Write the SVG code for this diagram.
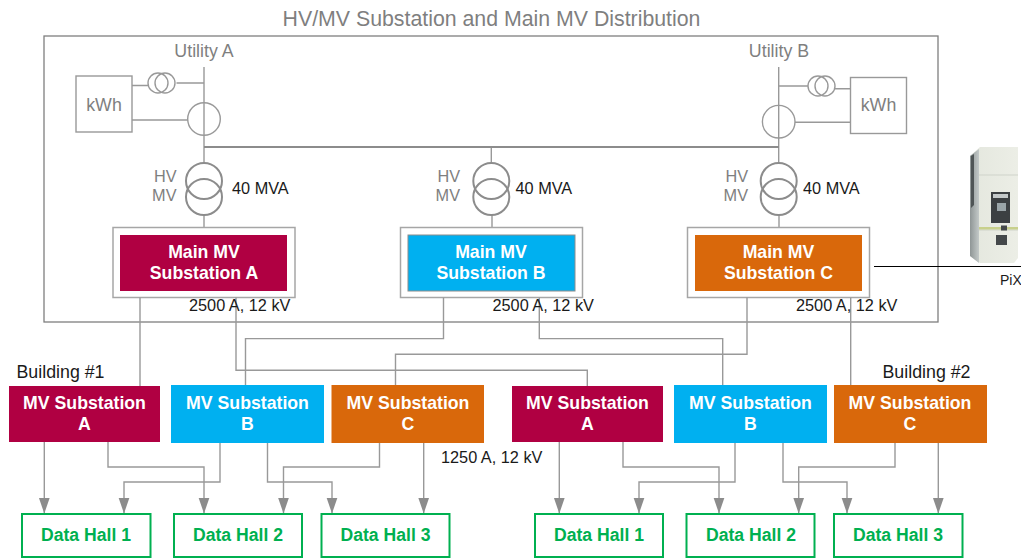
<svg xmlns="http://www.w3.org/2000/svg" width="1021" height="558" viewBox="0 0 1021 558">
<style>
text{font-family:"Liberation Sans",Arial,sans-serif}
.g{fill:#7f7f7f}.k{fill:#1a1a1a}
.t13{font-size:16.3px}
.l{font-size:17.8px}
.b{font-weight:bold;fill:#fff;font-size:17.7px;text-anchor:middle}
.h{font-weight:bold;fill:#00b050;font-size:17.6px;text-anchor:middle}
.c{fill:none;stroke:#999;stroke-width:1.4}
.t{fill:none;stroke:#8c8c8c;stroke-width:2}
.o{fill:#fff;stroke:#a6a6a6;stroke-width:1.5}
.m{fill:none;stroke:#999;stroke-width:1.4}
.hall{fill:#fff;stroke:#00b050;stroke-width:2}
.a{marker-end:url(#ah)}
.rA{fill:#b00042}.rB{fill:#00b0f0}.rC{fill:#d9680b}
</style>
<defs>
<marker id="ah" markerUnits="userSpaceOnUse" markerWidth="16" markerHeight="12" refX="15.500" refY="5.500" orient="auto"><path d="M0 0L16 5.500L0 11Z" fill="#8c8c8c"/></marker>
<linearGradient id="cab" x1="0" x2="1" y1="0" y2="0"><stop offset="0" stop-color="#e4e7de"/><stop offset="1" stop-color="#eceee6"/></linearGradient>
<linearGradient id="side" x1="0" x2="1" y1="0" y2="0"><stop offset="0" stop-color="#8f9696"/><stop offset="1" stop-color="#c3c9c8"/></linearGradient>
</defs>
<rect width="1021" height="558" fill="#fff"/>
<text id="title" x="491.500" y="25.500" class="g" font-size="21.300" text-anchor="middle">HV/MV Substation and Main MV Distribution</text>
<rect id="boundary" x="44" y="36" width="894" height="286" fill="none" stroke="#7f7f7f" stroke-width="1.300"/>

<g id="utility-a">
<text x="204" y="57" class="g l" text-anchor="middle">Utility A</text>
<rect x="76" y="76" width="56" height="56" class="m"/>
<text x="104" y="110.500" class="g l" text-anchor="middle">kWh</text>
<circle cx="204" cy="119" r="16.300" class="m"/>
<circle cx="158" cy="83" r="10" class="m"/><circle cx="165" cy="83" r="10" class="m"/>
<path d="M132 85.500H148M176.500 83H204M132 120H188" class="m"/>
</g>
<g id="utility-b">
<text x="779" y="57" class="g l" text-anchor="middle">Utility B</text>
<rect x="850.500" y="77.500" width="56" height="56" class="m"/>
<text x="878.500" y="111" class="g l" text-anchor="middle">kWh</text>
<circle cx="778.700" cy="121.700" r="16.300" class="m"/>
<circle cx="818" cy="86" r="10" class="m"/><circle cx="825" cy="86" r="10" class="m"/>
<path d="M778.700 86H808M835 88.700H850.500M795 122.300H850.500" class="m"/>
</g>
<g id="connectors-hv">
<path d="M204 67V163M204 215V235M778.700 67V163M779 215V235M491.300 147V163M492 215V235" class="c"/>
<path d="M204 147H779" fill="none" stroke="#8c8c8c" stroke-width="2"/>
</g>
<g id="tx-a"><circle cx="204" cy="181" r="18" class="t"/><circle cx="204" cy="197" r="18" class="t"/>
<text x="176.500" y="182" class="g t13" text-anchor="end">HV</text><text x="176.500" y="201" class="g t13" text-anchor="end">MV</text>
<text x="232" y="194" class="k t13">40 MVA</text></g>
<g id="tx-b"><circle cx="491.300" cy="181" r="18" class="t"/><circle cx="491.300" cy="197" r="18" class="t"/>
<text x="460" y="182" class="g t13" text-anchor="end">HV</text><text x="460" y="201" class="g t13" text-anchor="end">MV</text>
<text x="515.500" y="194" class="k t13">40 MVA</text></g>
<g id="tx-c"><circle cx="778.700" cy="181" r="18" class="t"/><circle cx="778.700" cy="197" r="18" class="t"/>
<text x="748" y="182" class="g t13" text-anchor="end">HV</text><text x="748" y="201" class="g t13" text-anchor="end">MV</text>
<text x="803" y="194" class="k t13">40 MVA</text></g>

<g id="main-a"><rect x="113" y="227.500" width="182" height="70" class="o"/><rect x="120" y="235" width="167" height="56" class="rA"/>
<text x="204" y="258" class="b">Main MV</text><text x="204" y="279" class="b">Substation A</text></g>
<g id="main-b"><rect x="400.500" y="227.500" width="182" height="70" class="o"/><rect x="408" y="235" width="167" height="56" class="rB" stroke="#8c8c8c" stroke-width="1"/>
<text x="491" y="258" class="b">Main MV</text><text x="491" y="279" class="b">Substation B</text></g>
<g id="main-c"><rect x="687.500" y="227.500" width="182" height="70" class="o"/><rect x="695" y="235" width="167" height="56" class="rC"/>
<text x="778.500" y="258" class="b">Main MV</text><text x="778.500" y="279" class="b">Substation C</text></g>

<g id="connectors">
<path d="M140 297.500V386M236 297.500V370.300H587.300V386M443.500 297.500V338.600H245.500V385M539.300 297.500V338.600H722.700V385M747 297.500V354.300H395.500V385M850.700 297.500V385" class="c"/>
<path class="c a" d="M44.300 442V513"/>
<path class="c a" d="M108 442V467H204V513"/>
<path class="c a" d="M220 443V482H124V513"/>
<path class="c a" d="M267.500 443V482H332V513"/>
<path class="c a" d="M379.500 443V467H283.500V513"/>
<path class="c a" d="M423.700 443V513"/>
<path class="c a" d="M559.300 442V513"/>
<path class="c a" d="M623 442V467H719V513"/>
<path class="c a" d="M735 443V482H639V513"/>
<path class="c a" d="M783 443V482H847V513"/>
<path class="c a" d="M895 443V467H798.700V513"/>
<path class="c a" d="M938.300 443V513"/>
</g>

<g id="labels">
<text x="189" y="311" class="k t13">2500 A, 12 kV</text>
<text x="492.500" y="311" class="k t13">2500 A, 12 kV</text>
<text x="796" y="311" class="k t13">2500 A, 12 kV</text>
<text x="16.500" y="377.500" class="k l">Building #1</text>
<text x="882.500" y="377.500" class="k l">Building #2</text>
<text x="441" y="463" class="k t13">1250 A, 12 kV</text>
</g>

<g id="sub-a1"><rect x="9" y="386" width="151" height="56" class="rA"/><text x="84.500" y="409" class="b">MV Substation</text><text x="84.500" y="430" class="b">A</text></g>
<g id="sub-b1"><rect x="171" y="385" width="153" height="58" class="rB"/><text x="247.500" y="409" class="b">MV Substation</text><text x="247.500" y="430" class="b">B</text></g>
<g id="sub-c1"><rect x="331.500" y="385" width="152.500" height="58" class="rC"/><text x="408" y="409" class="b">MV Substation</text><text x="408" y="430" class="b">C</text></g>
<g id="sub-a2"><rect x="512" y="386" width="151" height="56" class="rA"/><text x="587.500" y="409" class="b">MV Substation</text><text x="587.500" y="430" class="b">A</text></g>
<g id="sub-b2"><rect x="674" y="385" width="153" height="58" class="rB"/><text x="750.500" y="409" class="b">MV Substation</text><text x="750.500" y="430" class="b">B</text></g>
<g id="sub-c2"><rect x="834" y="385" width="153" height="58" class="rC"/><text x="910" y="409" class="b">MV Substation</text><text x="910" y="430" class="b">C</text></g>

<g id="hall-1a"><rect x="22" y="514" width="128.500" height="43" class="hall"/><text x="86" y="541" class="h">Data Hall 1</text></g>
<g id="hall-2a"><rect x="174" y="514" width="128" height="43" class="hall"/><text x="238" y="541" class="h">Data Hall 2</text></g>
<g id="hall-3a"><rect x="321.500" y="514" width="128" height="43" class="hall"/><text x="385.500" y="541" class="h">Data Hall 3</text></g>
<g id="hall-1b"><rect x="535" y="514" width="128" height="43" class="hall"/><text x="599" y="541" class="h">Data Hall 1</text></g>
<g id="hall-2b"><rect x="686.500" y="514" width="128" height="43" class="hall"/><text x="751" y="541" class="h">Data Hall 2</text></g>
<g id="hall-3b"><rect x="834" y="514" width="128.500" height="43" class="hall"/><text x="898" y="541" class="h">Data Hall 3</text></g>

<g id="pix">
<path d="M970 156L980 147H1018V258L1014 263H980L970 256Z" fill="url(#cab)"/>
<path d="M970 156L979 149V263L970 256Z" fill="url(#side)"/>
<path d="M971 156L974 154V205L971 208Z" fill="#4f5556"/>
<path d="M979 175H1018M979 230H1018" stroke="#cfd3ca" stroke-width="1"/>
<rect x="991" y="192" width="19" height="31" fill="#3c4042"/>
<rect x="993" y="194" width="15" height="4" fill="#c4c9c9"/>
<rect x="997" y="203" width="9" height="8" fill="#9aa5a8"/>
<rect x="979" y="227" width="39" height="2.500" fill="#c8d08c"/>
<rect x="1001" y="225.500" width="6" height="5" fill="#45494a"/>
<rect x="996" y="235" width="11" height="10" fill="#44484a"/>
<path d="M874 266.500H1021" stroke="#000" stroke-width="1"/>
<text x="1000" y="285" class="k" font-size="14">PiX</text>
</g>
</svg>
